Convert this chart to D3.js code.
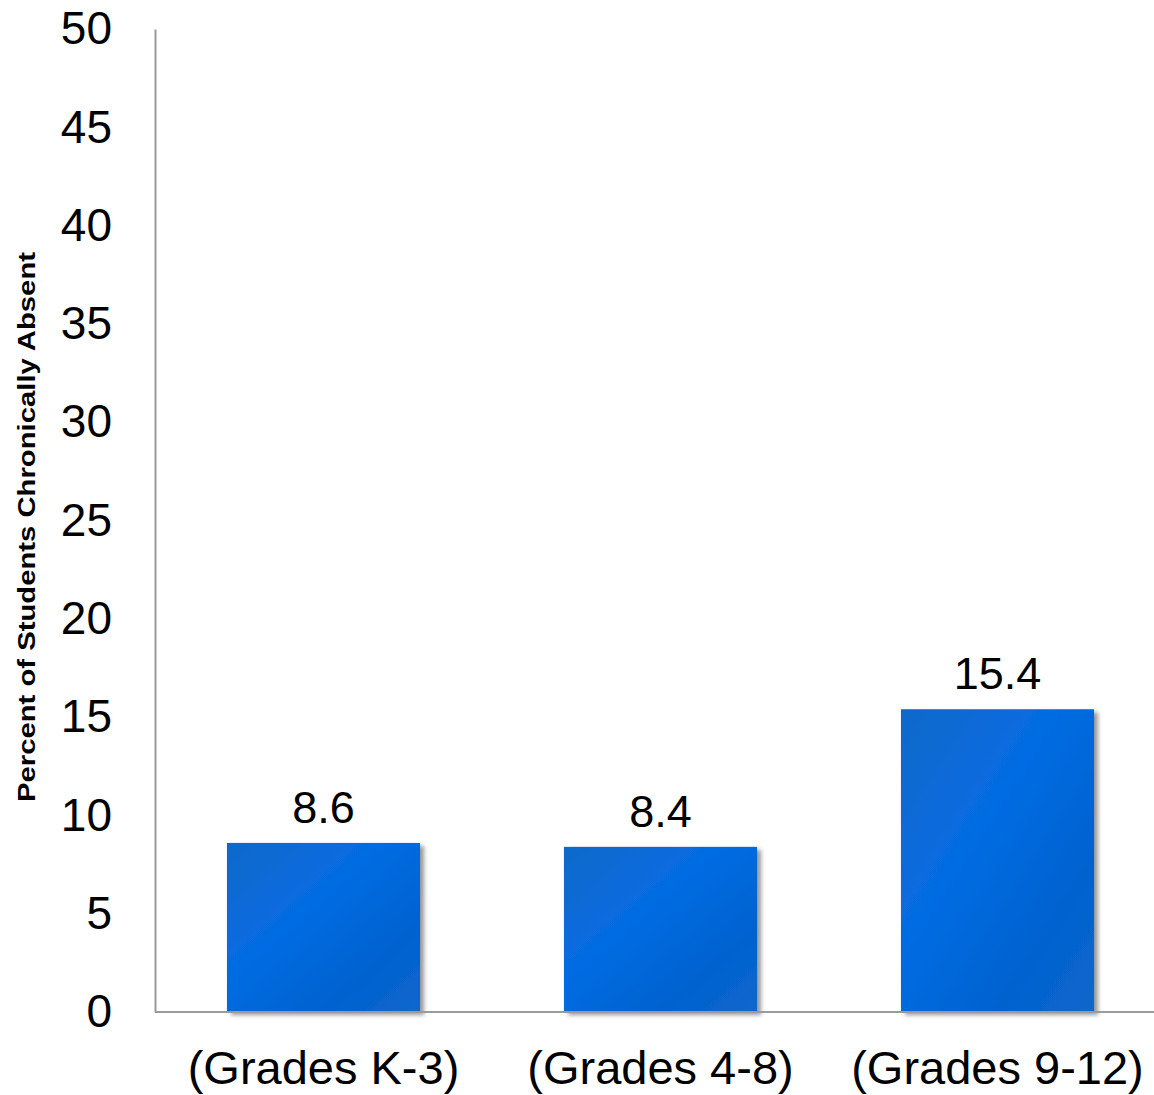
<!DOCTYPE html>
<html>
<head>
<meta charset="utf-8">
<script src="https://cdn.jsdelivr.net/npm/d3@7"></script>
<style>
  html, body { margin: 0; padding: 0; background: #fff; }
  svg { display: block; }
  text { font-family: "Liberation Sans", Arial, sans-serif; fill: #000; }
</style>
</head>
<body>
<svg id="chart" width="1154" height="1095"></svg>
<script>
const categories = ["(Grades K-3)", "(Grades 4-8)", "(Grades 9-12)"];
const values = [8.6, 8.4, 15.4];
const yTicks = [0, 5, 10, 15, 20, 25, 30, 35, 40, 45, 50];
const yTitle = "Percent of Students Chronically Absent";

const svg = d3.select("#chart");
const W = 1154, H = 1095;

const y = d3.scaleLinear().domain([0, 50]).range([1012, 29]);
const x = d3.scaleBand().domain(categories).range([155, 1166])
  .paddingInner(0.427).paddingOuter(0.2135);

const defs = svg.append("defs");
const grad = defs.append("linearGradient").attr("id", "barGrad")
  .attr("x1", "0").attr("y1", "0").attr("x2", "1").attr("y2", "1");
grad.append("stop").attr("offset", "0%").attr("stop-color", "#1169c9");
grad.append("stop").attr("offset", "40%").attr("stop-color", "#056ce3");
grad.append("stop").attr("offset", "75%").attr("stop-color", "#0362cf");
grad.append("stop").attr("offset", "100%").attr("stop-color", "#0b67cc");

const shadow = defs.append("filter").attr("id", "shadow")
  .attr("x", "-10%").attr("y", "-10%").attr("width", "130%").attr("height", "130%");
shadow.append("feDropShadow").attr("dx", 4).attr("dy", 3)
  .attr("stdDeviation", 2).attr("flood-color", "#555").attr("flood-opacity", 0.6);

// Y axis
const yAxis = d3.axisLeft(y).tickValues(yTicks).tickSize(0).tickPadding(43);
const gy = svg.append("g").attr("transform", "translate(155,0)").call(yAxis);
gy.select(".domain").attr("stroke", "#9a9a9a").attr("stroke-width", 2);
gy.selectAll(".tick text").attr("font-size", 46)
  .attr("font-family", "'Liberation Sans', Arial, sans-serif").attr("fill", "#000");

// Bars
svg.append("g").selectAll("rect").data(values).join("rect")
  .attr("x", (d, i) => x(categories[i]))
  .attr("y", d => y(d))
  .attr("width", x.bandwidth())
  .attr("height", d => y(0) - y(d))
  .attr("fill", "url(#barGrad)")
  .attr("filter", "url(#shadow)");

// X axis line
svg.append("line").attr("x1", 155).attr("x2", W).attr("y1", y(0)).attr("y2", y(0))
  .attr("stroke", "#9a9a9a").attr("stroke-width", 2);

// Value labels
svg.append("g").selectAll("text").data(values).join("text")
  .attr("x", (d, i) => x(categories[i]) + x.bandwidth() / 2)
  .attr("y", d => y(d) - 20)
  .attr("text-anchor", "middle")
  .attr("font-size", 45)
  .text(d => d.toFixed(1));

// Category labels
svg.append("g").selectAll("text").data(categories).join("text")
  .attr("x", d => x(d) + x.bandwidth() / 2)
  .attr("y", 1084)
  .attr("text-anchor", "middle")
  .attr("font-size", 47)
  .text(d => d);

// Y title
svg.append("text")
  .attr("transform", "translate(35,527) rotate(-90)")
  .attr("text-anchor", "middle")
  .attr("font-size", 24)
  .attr("font-weight", "bold")
  .attr("textLength", 550)
  .attr("lengthAdjust", "spacingAndGlyphs")
  .text(yTitle);
</script>
</body>
</html>
